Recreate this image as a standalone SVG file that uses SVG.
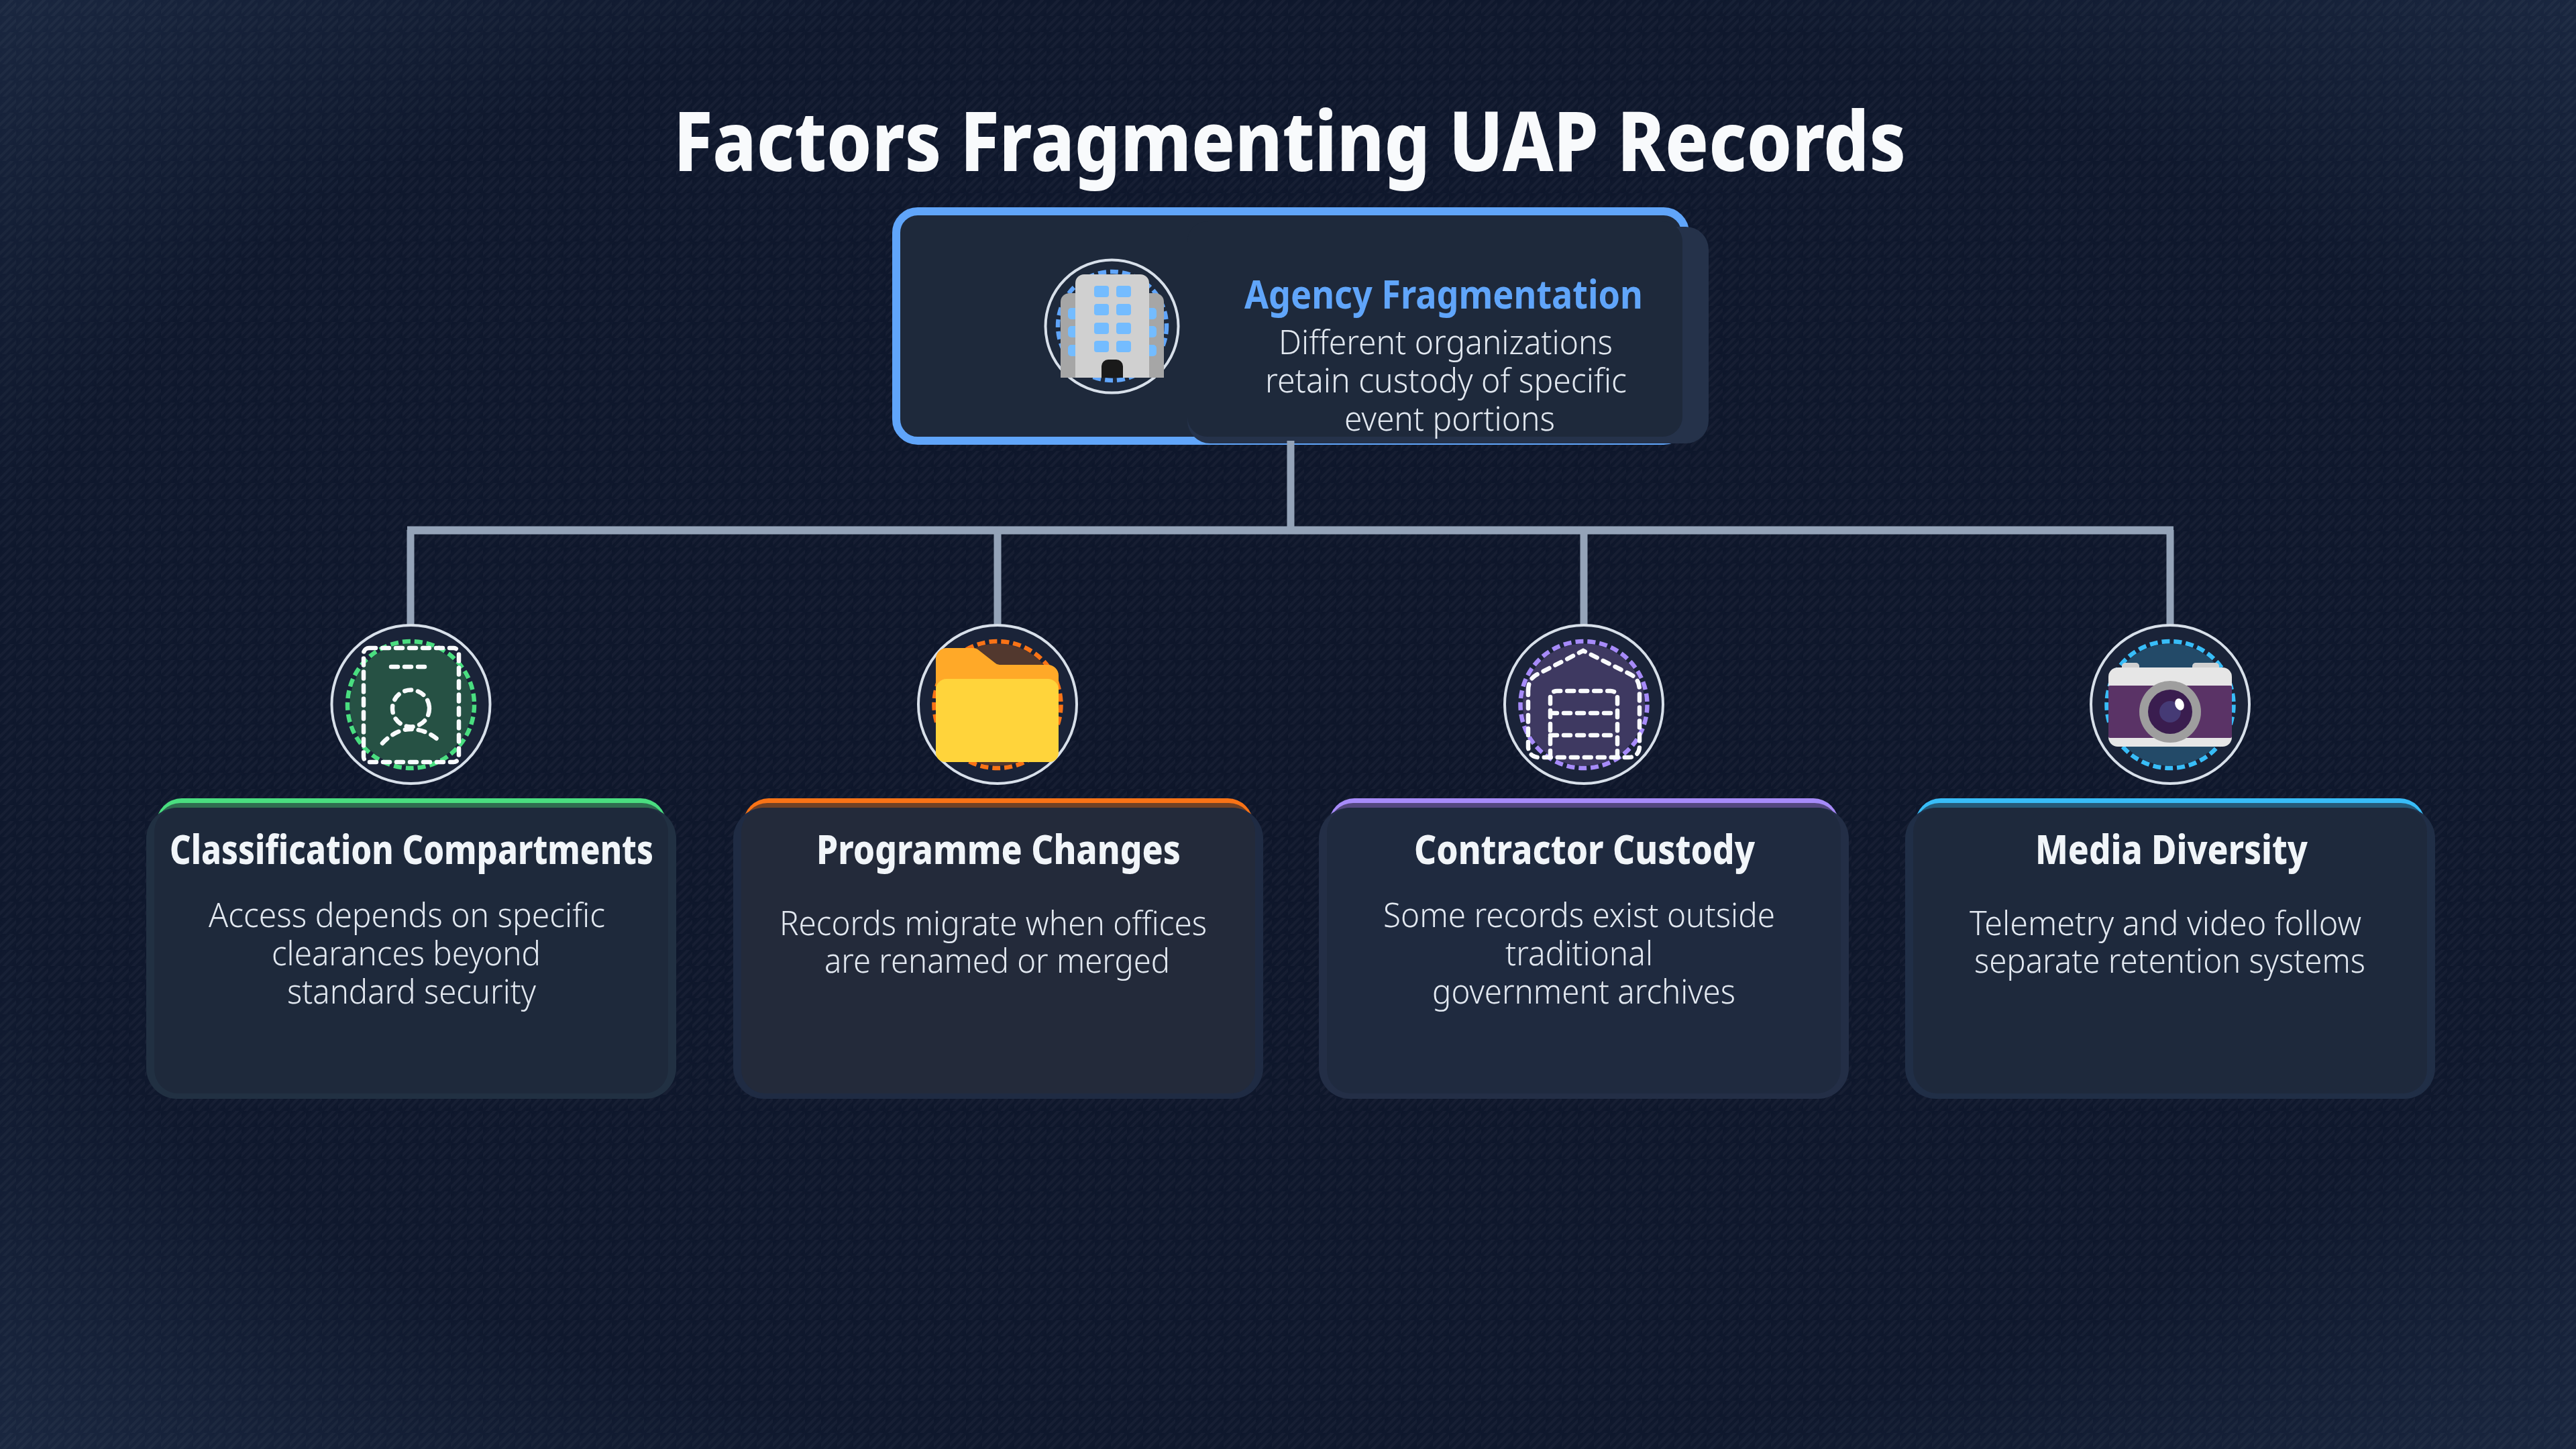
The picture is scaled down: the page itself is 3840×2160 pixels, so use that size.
<svg xmlns="http://www.w3.org/2000/svg" width="3840" height="2160" viewBox="0 0 3840 2160">
<style>
text{font-family:"Noto Sans","Open Sans","Liberation Sans",sans-serif}
.title{font-size:124px;font-weight:800;fill:#f8fafc}
.rt{font-size:60px;font-weight:700;fill:#60a5fa}
.ct{font-size:60px;font-weight:800;fill:#f1f5f9}
.b{font-size:49px;font-weight:350;fill:#e2e8f0}
.ring{fill:#1a2338;stroke:#d8e0ea;stroke-width:4}
.dash{stroke-width:6.5;stroke-dasharray:12 6}
.w{fill:none;stroke:#f8fafc;stroke-width:6.5;stroke-linecap:round;stroke-dasharray:10 10}
.win{fill:#74bcff}
.conn{stroke:#94a3b8;stroke-width:11;fill:none}
</style>
<defs>
<radialGradient id="bg" cx="50%" cy="50%" r="71%">
<stop offset="0" stop-color="#0e162a"/><stop offset="0.72" stop-color="#0f182d"/><stop offset="1" stop-color="#1a2740"/>
</radialGradient>
<pattern id="st" width="24" height="24" patternUnits="userSpaceOnUse">
<path d="M-3 21 L21 -3 M3 27 L27 3" stroke="#ffffff" stroke-opacity="0.03" stroke-width="4" fill="none"/>
</pattern>
</defs>
<rect width="3840" height="2160" fill="url(#bg)"/>
<rect width="3840" height="2160" fill="url(#st)"/>
<text class="title" x="1004" y="255" textLength="1837" lengthAdjust="spacingAndGlyphs">Factors Fragmenting UAP Records</text>

<g id="node-root">
<rect x="1336" y="315" width="1176" height="342" rx="32" fill="#1e293b" stroke="#60a5fa" stroke-width="12"/>
<rect x="1770" y="338" width="777" height="323" rx="34" fill="#25324a"/>
<rect x="1770" y="330" width="738" height="321" rx="30" fill="#1e293b"/>
<circle class="ring" cx="1657.5" cy="486.5" r="99" style="fill:#1e293b"/>
<circle class="dash" cx="1658" cy="486" r="81" fill="none" stroke="#60a5fa"/>
<path d="M1581 563V450a13 13 0 0 1 13-13H1722a13 13 0 0 1 13 13V563Z" fill="#a6a6a6"/>
<path d="M1603 563V422a13 13 0 0 1 13-13H1700a13 13 0 0 1 13 13V563Z" fill="#d0d0d0"/>
<g class="win">
<rect x="1631" y="426" width="22" height="17" rx="4"/><rect x="1664" y="426" width="22" height="17" rx="4"/>
<rect x="1631" y="453" width="22" height="17" rx="4"/><rect x="1664" y="453" width="22" height="17" rx="4"/>
<rect x="1631" y="481" width="22" height="17" rx="4"/><rect x="1664" y="481" width="22" height="17" rx="4"/>
<rect x="1631" y="508" width="22" height="17" rx="4"/><rect x="1664" y="508" width="22" height="17" rx="4"/>
<path d="M1603 459h-6a5 5 0 0 0-5 5v7a5 5 0 0 0 5 5h6Z"/><path d="M1603 486h-6a5 5 0 0 0-5 5v7a5 5 0 0 0 5 5h6Z"/><path d="M1603 514h-6a5 5 0 0 0-5 5v7a5 5 0 0 0 5 5h6Z"/>
<path d="M1713 459h6a5 5 0 0 1 5 5v7a5 5 0 0 1-5 5h-6Z"/><path d="M1713 486h6a5 5 0 0 1 5 5v7a5 5 0 0 1-5 5h-6Z"/><path d="M1713 514h6a5 5 0 0 1 5 5v7a5 5 0 0 1-5 5h-6Z"/>
</g>
<path d="M1642 563V546a10 10 0 0 1 10-10h12a10 10 0 0 1 10 10V563Z" fill="#1a1a1a"/>
<text class="rt" x="1855" y="460" textLength="594" lengthAdjust="spacingAndGlyphs">Agency Fragmentation</text>
<text class="b" x="1906" y="528" textLength="498" lengthAdjust="spacingAndGlyphs">Different organizations</text>
<text class="b" x="1886" y="585" textLength="539" lengthAdjust="spacingAndGlyphs">retain custody of specific</text>
<text class="b" x="2004" y="642" textLength="314" lengthAdjust="spacingAndGlyphs">event portions</text>
</g>

<g id="connectors">
<path class="conn" d="M1924 657V790"/>
<path class="conn" d="M607 790.5H3240" style="stroke-width:12"/>
<path class="conn" d="M612 790V932M1487 790V932M2361 790V932M3235 790V932"/>
</g>

<g id="node-classification">
<rect x="233" y="1190" width="760" height="120" rx="38" fill="#4ade80"/>
<rect x="233" y="1197" width="760" height="120" rx="36" fill="#2f6d50"/>
<rect x="218" y="1204" width="790" height="434" rx="46" fill="#213042"/>
<rect x="230" y="1204" width="766" height="426" rx="36" fill="#1e293b"/>
<circle class="ring" cx="612.5" cy="1050" r="118"/>
<circle cx="612.5" cy="1050.5" r="91" fill="#265144"/>
<circle class="dash" cx="612.5" cy="1050.5" r="94.5" fill="none" stroke="#4ade80"/>
<rect class="w" x="542" y="966" width="142" height="170" rx="8"/>
<path class="w" d="M583 994H638"/>
<circle class="w" cx="612.5" cy="1056" r="27.5"/>
<path class="w" d="M570 1108C585 1092 600 1087 612 1087C628 1087 642 1093 653 1103"/>
<text class="ct" x="253" y="1288" textLength="721" lengthAdjust="spacingAndGlyphs">Classification Compartments</text>
<text class="b" x="311" y="1382" textLength="591" lengthAdjust="spacingAndGlyphs">Access depends on specific</text>
<text class="b" x="405" y="1439" textLength="401" lengthAdjust="spacingAndGlyphs">clearances beyond</text>
<text class="b" x="428" y="1496" textLength="371" lengthAdjust="spacingAndGlyphs">standard security</text>
</g>

<g id="node-programme">
<rect x="1108" y="1190" width="760" height="120" rx="38" fill="#f97316"/>
<rect x="1108" y="1197" width="760" height="120" rx="36" fill="#6f4126"/>
<rect x="1093" y="1204" width="790" height="434" rx="46" fill="#1f2b43"/>
<rect x="1105" y="1204" width="766" height="426" rx="36" fill="#232a3a"/>
<circle class="ring" cx="1487" cy="1050" r="118"/>
<circle cx="1487" cy="1050.5" r="91" fill="#52382e"/>
<circle class="dash" cx="1487" cy="1050.5" r="94.5" fill="none" stroke="#f97316"/>
<path d="M1395 1122V982a16 16 0 0 1 16-16H1450a14 14 0 0 1 10 4L1483 988a10 10 0 0 0 7 3H1562a16 16 0 0 1 16 16V1122Z" fill="#ffa928"/>
<path d="M1395 1028a16 16 0 0 1 16-16H1562a16 16 0 0 1 16 16V1122a14 14 0 0 1-14 14H1409a14 14 0 0 1-14-14Z" fill="#ffd43b"/>
<text class="ct" x="1217" y="1288" textLength="543" lengthAdjust="spacingAndGlyphs">Programme Changes</text>
<text class="b" x="1162" y="1394" textLength="637" lengthAdjust="spacingAndGlyphs">Records migrate when offices</text>
<text class="b" x="1229" y="1450" textLength="515" lengthAdjust="spacingAndGlyphs">are renamed or merged</text>
</g>

<g id="node-contractor">
<rect x="1981" y="1190" width="760" height="120" rx="38" fill="#a78bfa"/>
<rect x="1981" y="1197" width="760" height="120" rx="36" fill="#54477f"/>
<rect x="1966" y="1204" width="790" height="434" rx="46" fill="#232e46"/>
<rect x="1978" y="1204" width="766" height="426" rx="36" fill="#1f2a3f"/>
<circle class="ring" cx="2361" cy="1050" r="118"/>
<circle cx="2361" cy="1050.5" r="91" fill="#3e3961"/>
<circle class="dash" cx="2361" cy="1050.5" r="94.5" fill="none" stroke="#a78bfa"/>
<path class="w" d="M2278 1030C2278 1018 2282 1010 2292 1005L2360 970L2430 1005C2440 1010 2444 1018 2444 1030V1113C2444 1122 2438 1129 2428 1129H2294C2284 1129 2278 1122 2278 1113Z"/>
<path class="w" d="M2311 1129V1040C2311 1034 2315 1030 2321 1030H2401C2407 1030 2411 1034 2411 1040V1129M2311 1063H2407M2311 1096H2407"/>
<text class="ct" x="2108" y="1288" textLength="508" lengthAdjust="spacingAndGlyphs">Contractor Custody</text>
<text class="b" x="2062" y="1382" textLength="584" lengthAdjust="spacingAndGlyphs">Some records exist outside</text>
<text class="b" x="2244" y="1439" textLength="220" lengthAdjust="spacingAndGlyphs">traditional</text>
<text class="b" x="2135" y="1496" textLength="452" lengthAdjust="spacingAndGlyphs">government archives</text>
</g>

<g id="node-media">
<rect x="2855" y="1190" width="760" height="120" rx="38" fill="#38bdf8"/>
<rect x="2855" y="1197" width="760" height="120" rx="36" fill="#265a78"/>
<rect x="2840" y="1204" width="790" height="434" rx="46" fill="#202e46"/>
<rect x="2852" y="1204" width="766" height="426" rx="36" fill="#1e293c"/>
<circle class="ring" cx="3235" cy="1050" r="118"/>
<circle cx="3235" cy="1050.5" r="91" fill="#234a68"/>
<circle class="dash" cx="3235" cy="1050.5" r="94.5" fill="none" stroke="#38bdf8"/>
<rect x="3163" y="988" width="26" height="20" rx="5" fill="#d0d0d0"/>
<rect x="3268" y="988" width="40" height="20" rx="5" fill="#d0d0d0"/>
<rect x="3143" y="995" width="184" height="118" rx="14" fill="#e6e6e6"/>
<rect x="3143" y="1022" width="184" height="78" rx="2" fill="#5a3366"/>
<circle cx="3235" cy="1061" r="46" fill="#9e9e9e"/>
<circle cx="3235" cy="1061" r="33" fill="#3a1d4f"/>
<circle cx="3235" cy="1061" r="16" fill="#453a75"/>
<ellipse cx="3249" cy="1050" rx="6.5" ry="9" fill="#ffffff" transform="rotate(-20 3249 1050)"/>
<text class="ct" x="3034" y="1288" textLength="406" lengthAdjust="spacingAndGlyphs">Media Diversity</text>
<text class="b" x="2936" y="1394" textLength="584" lengthAdjust="spacingAndGlyphs">Telemetry and video follow</text>
<text class="b" x="2943" y="1450" textLength="583" lengthAdjust="spacingAndGlyphs">separate retention systems</text>
</g>
</svg>
